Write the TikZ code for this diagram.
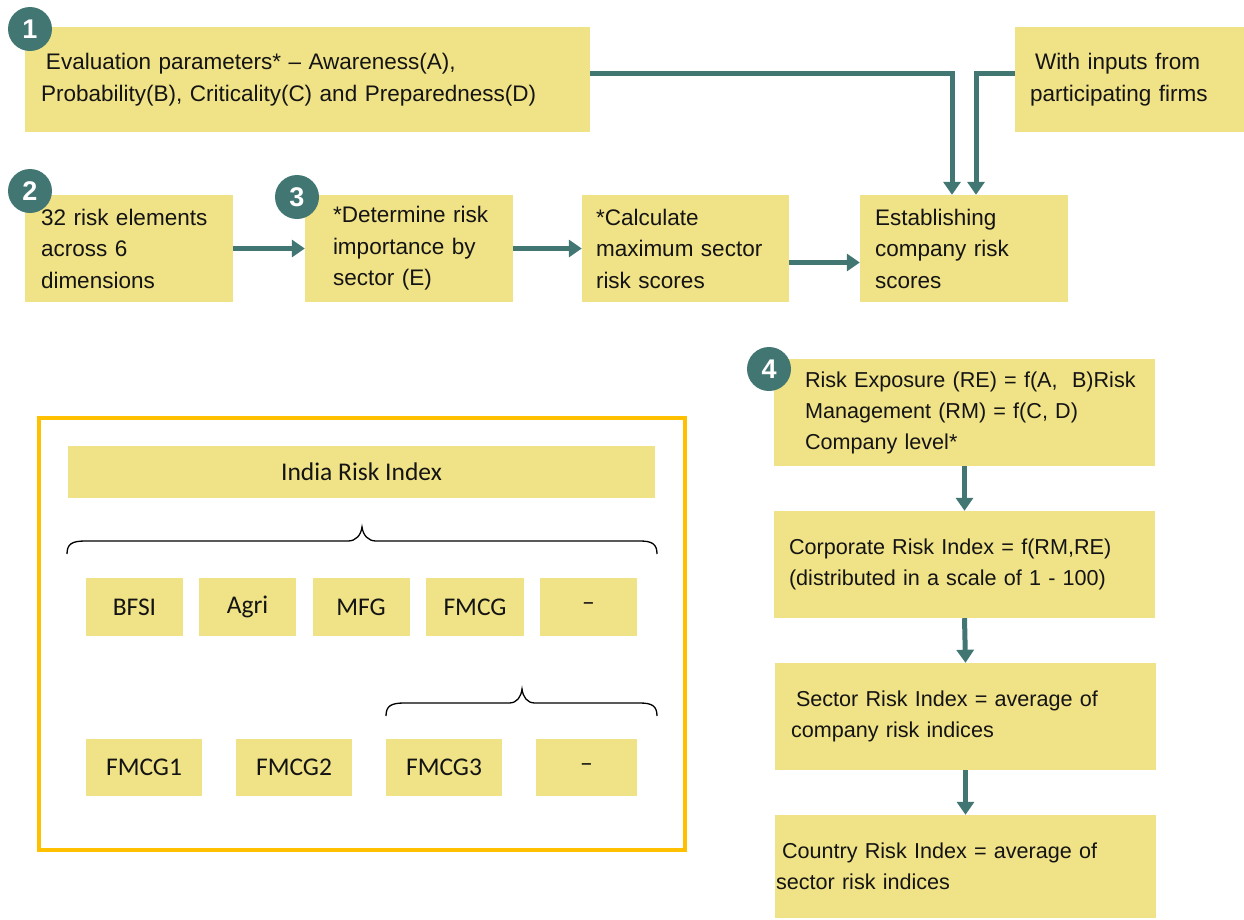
\documentclass[tikz,border=0pt]{standalone}
\usepackage{fontspec}
\setmainfont{Liberation Sans}
\newfontfamily\carfont{Carlito}
\usetikzlibrary{arrows.meta}
\definecolor{boxfill}{RGB}{240,226,134}
\definecolor{tealc}{RGB}{65,118,115}
\definecolor{frameorange}{RGB}{255,192,0}
\definecolor{txt}{RGB}{20,20,20}
\begin{document}
\begin{tikzpicture}[x=1pt,y=-1pt,
  box/.style={fill=boxfill, draw=none, rectangle, inner sep=0pt, align=left, text=txt,
    font=\fontsize{22.5}{31.5}\selectfont},
  rbox/.style={box, font=\fontsize{21.6}{31}\selectfont},
  arr/.style={draw=tealc, line width=5pt, -{Triangle[length=13pt,width=17pt]}},
  badge/.style={circle, fill=tealc, text=white, minimum size=44pt, inner sep=0pt,
    font=\fontsize{27}{27}\selectfont\bfseries},
  sbox/.style={fill=boxfill, inner sep=0pt, text=txt, font=\carfont\fontsize{25.5}{25.5}\selectfont},
  brace/.style={draw=black, line width=1.3pt}]
\useasboundingbox (0,0) rectangle (1244,919);

% top flow
\node[box, minimum width=565pt, minimum height=105pt, text width=533pt] (b1) at (307.5,79.5)
  {\mbox{\hspace{5pt}Evaluation parameters* – Awareness(A),}\\\mbox{Probability(B), Criticality(C) and Preparedness(D)}};
\node[box, minimum width=229pt, minimum height=105pt, text width=199pt] (inp) at (1129.5,79.5)
  {\mbox{\hspace{5pt}With inputs from}\\\mbox{participating firms}};
\node[box, minimum width=208pt, minimum height=107pt, text width=176pt] (b2) at (129,248.5)
  {\mbox{32 risk elements}\\across 6\\dimensions};
\node[box, minimum width=208pt, minimum height=107pt, text width=152pt] (b3) at (409,248.5)
  {\mbox{*Determine risk}\\\mbox{importance by}\\sector (E)};
\node[box, minimum width=207pt, minimum height=107pt, text width=179pt] (b4) at (685.5,248.5)
  {*Calculate\\\mbox{maximum sector}\\risk scores};
\node[box, minimum width=208pt, minimum height=107pt, text width=178pt] (b5) at (964,248.5)
  {Establishing\\\mbox{company risk}\\scores};

\draw[arr] (b2.east) -- (b3.west);
\draw[arr] (b3.east) -- (b4.west);
\draw[arr] ([yshift=-14pt]b4.east) -- ([yshift=-14pt]b5.west);
\draw[arr] ([yshift=6pt]b1.east) -| ([xshift=-12pt]b5.north);
\draw[arr] ([yshift=6pt]inp.west) -| ([xshift=12pt]b5.north);

% right column
\node[rbox, minimum width=381pt, minimum height=107pt, text width=319pt] (re) at (964.5,412.5)
  {\mbox{Risk Exposure (RE) = f(A,\ \ B)Risk}\\\mbox{Management (RM) = f(C, D)}\\Company level*};
\node[rbox, minimum width=381pt, minimum height=107pt, text width=351pt] (cri) at (964.5,564.5)
  {\mbox{Corporate Risk Index = f(RM,RE)}\\\mbox{(distributed in a scale of 1 - 100)}};
\node[rbox, minimum width=381pt, minimum height=107pt, text width=349pt] (sri) at (965.5,716.5)
  {\mbox{\hspace{5pt}Sector Risk Index = average of}\\\mbox{company risk indices}};
\node[rbox, minimum width=381pt, minimum height=103pt, text width=379pt] (ctri) at (965.5,866.5)
  {\mbox{\hspace{6pt}Country Risk Index = average of}\\\mbox{sector risk indices}};

\draw[arr] (re.south) -- (cri.north);
\draw[arr] (cri.south) -- (sri.north);
\draw[arr] (sri.south) -- (ctri.north);

% badges
\node[badge] (n1) at (30,29) {1};
\node[badge] (n2) at (30,191) {2};
\node[badge] (n3) at (297,197) {3};
\node[badge] (n4) at (769,369) {4};

% left panel
\node[draw=frameorange, line width=3.5pt, minimum width=646pt, minimum height=432pt, inner sep=0pt] (frame) at (362,634) {};
\node[sbox, minimum width=587pt, minimum height=52pt] (iri) at (361.5,472) {India Risk Index};
\node[sbox, minimum width=97pt, minimum height=58pt] (bfsi) at (134.5,607) {BFSI};
\node[sbox, minimum width=97pt, minimum height=58pt] (agri) at (247.5,607) {Agri};
\node[sbox, minimum width=97pt, minimum height=58pt] (mfg) at (361,607) {MFG};
\node[sbox, minimum width=98pt, minimum height=58pt] (fmcg) at (475,607) {FMCG};
\node[sbox, minimum width=97pt, minimum height=58pt] (dash1) at (588.5,607) {–};
\node[sbox, minimum width=116pt, minimum height=57pt] (f1) at (144,767.5) {FMCG1};
\node[sbox, minimum width=116pt, minimum height=57pt] (f2) at (294,767.5) {FMCG2};
\node[sbox, minimum width=116pt, minimum height=57pt] (f3) at (444,767.5) {FMCG3};
\node[sbox, minimum width=101pt, minimum height=57pt] (dash2) at (586.5,767.5) {–};

% braces
\draw[brace] (67,554) .. controls (67,544) and (72,541) .. (85,541) -- (348,541)
  .. controls (356,541) and (361,535) .. (362,527)
  .. controls (363,535) and (368,541) .. (376,541) -- (640,541)
  .. controls (652,541) and (657,544) .. (657,554);
\draw[brace] (386,716) .. controls (386,706) and (391,703) .. (404,703) -- (509,703)
  .. controls (517,703) and (521,697) .. (522,689)
  .. controls (523,697) and (527,703) .. (535,703) -- (640,703)
  .. controls (652,703) and (657,706) .. (657,716);
\end{tikzpicture}
\end{document}
